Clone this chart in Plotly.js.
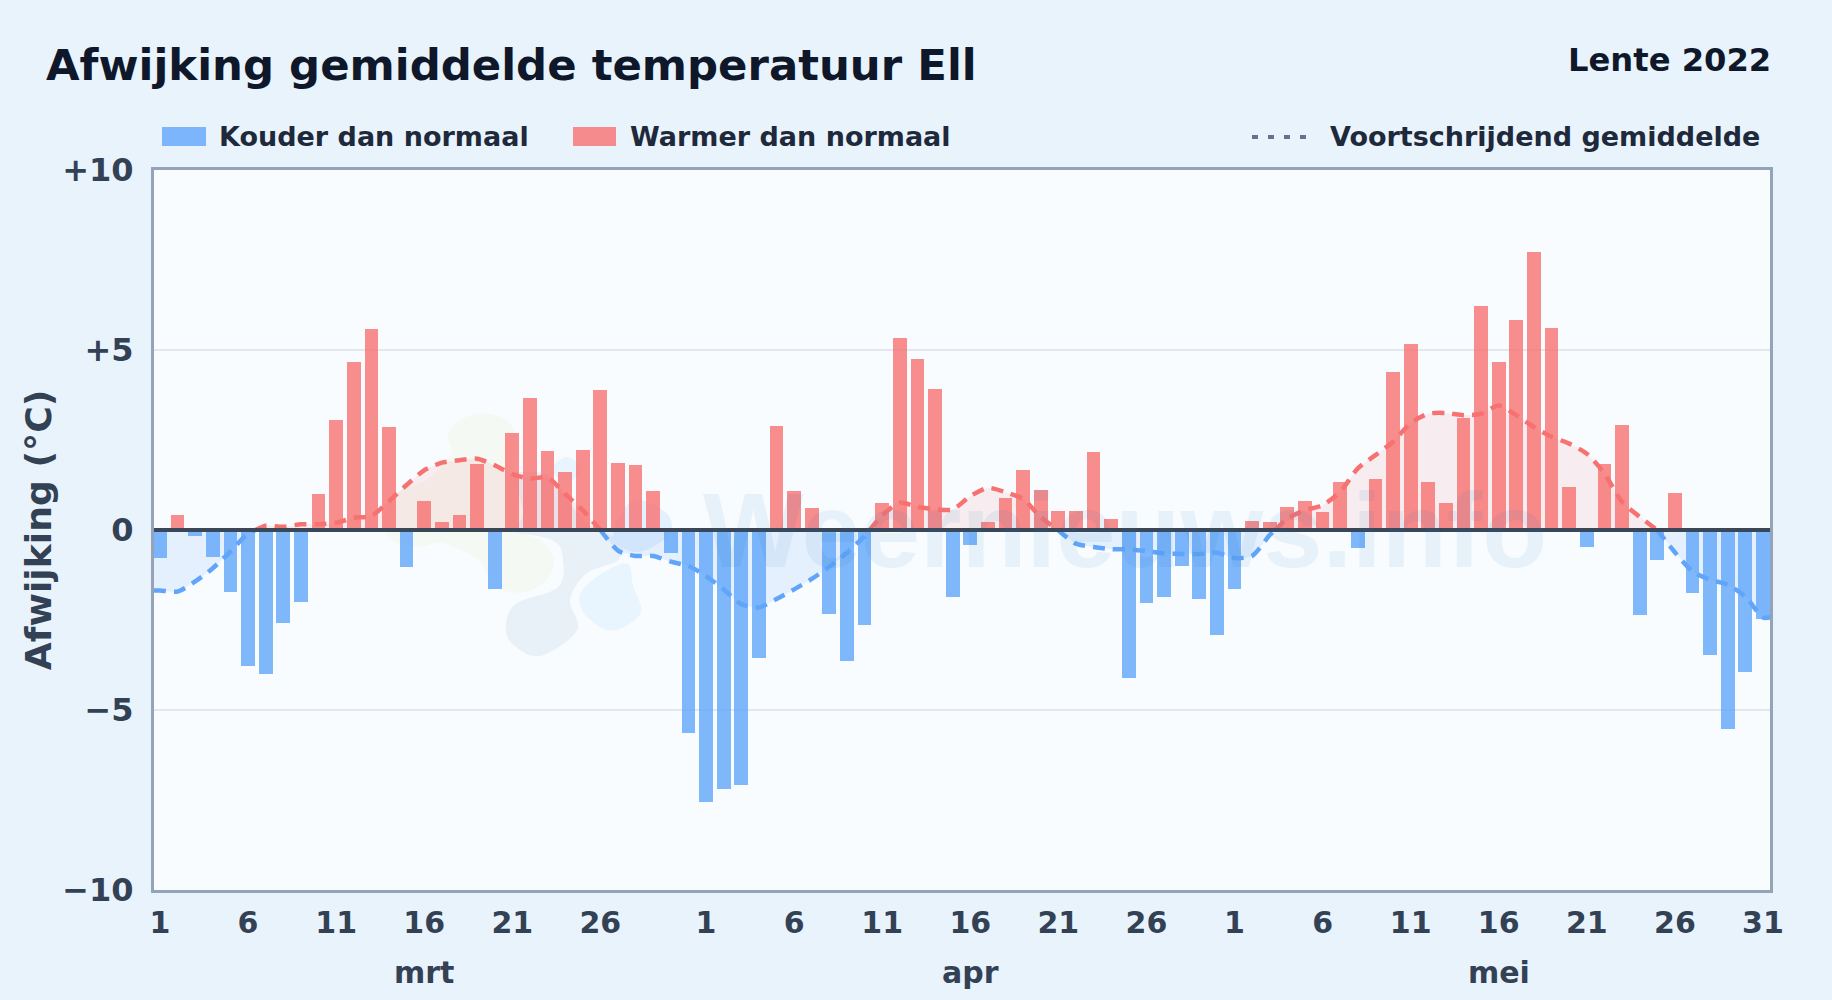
<!DOCTYPE html>
<html>
<head>
<meta charset="utf-8">
<script src="https://cdn.plot.ly/plotly-3.0.1.min.js"></script>
<style>html,body{margin:0;padding:0;background:#e9f3fc;}#chart{width:1832px;height:1000px;}</style>
</head>
<body>
<div id="chart"></div>
<script>
const title = "Afwijking gemiddelde temperatuur Ell";
const subtitle = "Lente 2022";
const yTitle = "Afwijking (°C)";
const seriesCold = "Kouder dan normaal";
const seriesWarm = "Warmer dan normaal";
const seriesAvg = "Voortschrijdend gemiddelde";
const watermark = "Weernieuws.info";

const dayLabels = [
 1,2,3,4,5,6,7,8,9,10,11,12,13,14,15,16,17,18,19,20,21,22,23,24,25,26,27,28,29,30,31,
 1,2,3,4,5,6,7,8,9,10,11,12,13,14,15,16,17,18,19,20,21,22,23,24,25,26,27,28,29,30,
 1,2,3,4,5,6,7,8,9,10,11,12,13,14,15,16,17,18,19,20,21,22,23,24,25,26,27,28,29,30,31];
const xTickDays = [0,5,10,15,20,25,31,36,41,46,51,56,61,66,71,76,81,86,91];
const monthNames = ["mrt","apr","mei"];
const monthLabelDay = [15,46,76];
const yTicks = [-10,-5,0,5,10];
const yTickText = ["−10","−5","0","+5","+10"];

const anomaly = [
 -0.77,0.42,-0.16,-0.74,-1.71,-3.79,-4.01,-2.57,-1.99,1.0,3.05,4.68,5.57,2.85,-1.02,0.8,0.22,0.42,1.83,-1.63,
 2.69,3.66,2.19,1.61,2.22,3.9,1.86,1.8,1.08,-0.63,-5.64,
 -7.56,-7.19,-7.08,-3.56,2.88,1.08,0.6,-2.34,-3.65,-2.65,0.75,5.32,4.76,3.93,-1.85,-0.43,0.22,0.89,1.66,1.11,
 0.53,0.53,2.18,0.31,-4.11,-2.04,-1.85,-0.99,-1.93,-2.93,
 -1.63,0.25,0.22,0.64,0.8,0.5,1.33,-0.49,1.41,4.4,5.18,1.33,0.75,3.1,6.23,4.68,5.82,7.73,5.62,1.19,-0.46,1.83,
 2.91,-2.37,-0.82,1.02,-1.74,-3.48,-5.53,-3.95,-2.48];

const movingAvg = [
 -1.68,-1.71,-1.43,-1.06,-0.6,-0.09,0.12,0.09,0.16,0.16,0.2,0.34,0.39,0.8,1.25,1.66,1.87,1.94,1.98,1.8,
 1.55,1.43,1.46,1.0,0.55,0.0,-0.57,-0.72,-0.72,-0.88,-1.0,
 -1.28,-1.65,-2.06,-2.15,-1.92,-1.65,-1.36,-1.02,-0.63,-0.17,0.41,0.76,0.64,0.58,0.57,0.94,1.17,1.05,0.86,0.36,
 -0.01,-0.38,-0.47,-0.53,-0.54,-0.59,-0.65,-0.67,-0.67,-0.63,
 -0.78,-0.72,-0.14,0.32,0.55,0.69,1.06,1.71,2.08,2.45,2.97,3.23,3.25,3.19,3.23,3.46,3.19,2.86,2.59,2.4,2.12,
 1.57,0.78,0.37,0.0,-0.62,-1.15,-1.38,-1.52,-1.85,-2.43];

const W = 1832, H = 1000;
const L = 154, R = 1770, T = 170, B = 890;
const xMin = -0.34, xMax = 91.4;
const px = x => (x - L) / (R - L);
const py = y => (B - y) / (B - T);
const idx = dayLabels.map((_, i) => i);
const F = "DejaVu Sans";

const C_COLD = "rgba(96,165,250,0.8)", C_WARM = "rgba(248,113,113,0.8)";
const LINE_COLD = "#60a5fa", LINE_WARM = "#f87171";

// Moving-average line is split at zero so each part takes the colour of its sign
const lineX = [xMin, ...idx, xMax];
const lineY = [movingAvg[0], ...movingAvg, movingAvg[movingAvg.length - 1]];
const segments = [];
let cur = {sign: lineY[0] >= 0 ? 1 : -1, x: [lineX[0]], y: [lineY[0]]};
for (let i = 1; i < lineX.length; i++) {
  const v = lineY[i], p = lineY[i-1];
  const s = v > 0 ? 1 : v < 0 ? -1 : cur.sign;
  if (s !== cur.sign) {
    const t = p / (p - v);
    const cx = lineX[i-1] + t * (lineX[i] - lineX[i-1]);
    cur.x.push(cx); cur.y.push(0);
    segments.push(cur);
    cur = {sign: s, x: [cx], y: [0]};
  }
  cur.x.push(lineX[i]); cur.y.push(v);
}
segments.push(cur);

const coldIdx = idx.filter(i => anomaly[i] < 0);
const warmIdx = idx.filter(i => anomaly[i] >= 0);
const traces = [
  {type:"bar", name:seriesCold, x:coldIdx, y:coldIdx.map(i=>anomaly[i]), width:0.78, marker:{color:C_COLD, line:{width:0}}, showlegend:false, hoverinfo:"y"},
  {type:"bar", name:seriesWarm, x:warmIdx, y:warmIdx.map(i=>anomaly[i]), width:0.78, marker:{color:C_WARM, line:{width:0}}, showlegend:false, hoverinfo:"y"},
  ...segments.map(s => ({
    type:"scatter", mode:"lines", name:seriesAvg, x:s.x, y:s.y, showlegend:false, hoverinfo:"y",
    line:{color:s.sign>0?LINE_WARM:LINE_COLD, width:4.5, dash:"12px,8px", shape:"spline", smoothing:0.7},
    fill:"tozeroy", fillcolor:s.sign>0?"rgba(248,113,113,0.11)":"rgba(96,165,250,0.13)"
  }))
];

// Faint logo behind the chart: outlines in reference pixels
function blob(pts, ox, oy, k) {
  const P = pts.map(p => [ox + p[0]/k, oy + p[1]/k]);
  const n = P.length; let d = `M${px(P[0][0])},${py(P[0][1])}`;
  for (let i=0;i<n;i++){
    const p0=P[(i-1+n)%n],p1=P[i],p2=P[(i+1)%n],p3=P[(i+2)%n];
    const c1=[p1[0]+(p2[0]-p0[0])/6,p1[1]+(p2[1]-p0[1])/6];
    const c2=[p2[0]-(p3[0]-p1[0])/6,p2[1]-(p3[1]-p1[1])/6];
    d+=`C${px(c1[0])},${py(c1[1])} ${px(c2[0])},${py(c2[1])} ${px(p2[0])},${py(p2[1])}`;
  }
  return d+"Z";
}
const logoGreen = [[205,100],[250,55],[310,40],[380,60],[405,110],[395,200],[430,340],[400,390],[480,420],[522,480],[495,545],[420,578],[340,555],[295,480],[190,430],[120,440],[40,425],[8,370],[50,280],[140,240],[212,165]];
const logoGrey = [[340,225],[500,222],[560,300],[640,385],[720,420],[715,480],[620,520],[570,600],[592,690],[480,768],[395,730],[378,670],[410,610],[530,565],[550,490],[515,420],[330,385],[250,330],[245,270]];
const logoBlueLow = [[598,590],[650,530],[740,490],[760,560],[782,640],[700,692],[625,655]];
const logoBlueUp = [[700,400],[760,300],[860,340],[870,400],[800,450],[740,450]];
const logoBlueTop = [[520,200],[560,170],[600,200],[580,240],[535,235]];
const blobShape = (pts, color) => ({type:"path", xref:"paper", yref:"paper", layer:"below", path:blob(pts,380,400,3), fillcolor:color, line:{width:0}});

const shapes = [
  blobShape(logoGrey,"#e8f0f8"),
  blobShape(logoGreen,"#f4f9f4"),
  blobShape(logoBlueLow,"#e9f5fe"),
  blobShape(logoBlueUp,"#e3f1fe"),
  blobShape(logoBlueTop,"#e9f5fe"),
  {type:"line", xref:"paper", yref:"y", x0:0, x1:1, y0:0, y1:0, layer:"above", line:{color:"#3a4759", width:4}},
  {type:"rect", xref:"paper", yref:"paper", x0:px(162), x1:px(206), y0:py(127), y1:py(146), fillcolor:C_COLD, line:{width:0}},
  {type:"rect", xref:"paper", yref:"paper", x0:px(573), x1:px(616), y0:py(127), y1:py(146), fillcolor:C_WARM, line:{width:0}},
  {type:"line", xref:"paper", yref:"paper", x0:px(1252), x1:px(1307), y0:py(137), y1:py(137), line:{color:"#64748b", width:4, dash:"6px,10px"}}
];

const txt = (text, x, y, size, color, anchor="left", extra={}) => ({
  text, xref:"paper", yref:"paper", x:px(x), y:py(y), xanchor:anchor, yanchor:"middle", showarrow:false,
  font:{family:F, size, color, weight:700}, borderpad:0, ...extra
});
const annotations = [
  {text:watermark, xref:"paper", yref:"paper", x:px(1125), y:py(530), xanchor:"center", yanchor:"middle", showarrow:false,
   font:{family:"Liberation Sans", size:106.5, weight:700, color:"rgba(30,110,180,0.08)"}},
  txt(subtitle, 1772, 60, 32.2, "#0f172a", "right"),
  txt(seriesCold, 218, 137, 27, "#1e293b"),
  txt(seriesWarm, 629, 137, 27, "#1e293b"),
  txt(seriesAvg, 1329, 137, 27, "#1e293b"),
  ...monthNames.map((m,i) => ({text:m, xref:"x", yref:"paper", x:monthLabelDay[i], y:py(972), xanchor:"center", yanchor:"middle",
     showarrow:false, font:{family:F, size:30, color:"#334155", weight:700}}))
];

const layout = {
  width:W, height:H, autosize:false,
  paper_bgcolor:"#e9f3fc", plot_bgcolor:"#f8fcff",
  margin:{l:L, r:W-R, t:T, b:H-B, pad:0},
  showlegend:false, barmode:"overlay", bargap:0,
  title:{text:title, x:46/W, xanchor:"left", xref:"container", y:1-65/H, yanchor:"middle", yref:"container",
         font:{family:F, size:43.4, color:"#0f172a", weight:700}},
  xaxis:{type:"linear", range:[xMin,xMax], tickmode:"array", tickvals:xTickDays, ticktext:xTickDays.map(i=>String(dayLabels[i])),
    tickangle:0, showgrid:false, zeroline:false, showline:true, mirror:true, linecolor:"#94a3b8", linewidth:3, ticks:"", ticklabelstandoff:4,
    tickfont:{family:F, size:30, color:"#334155", weight:700}},
  yaxis:{range:[-10,10], tickmode:"array", tickvals:yTicks, ticktext:yTickText, showgrid:true, gridcolor:"#e2e8ee", gridwidth:2,
    zeroline:false, showline:true, mirror:true, linecolor:"#94a3b8", linewidth:3, ticks:"", ticklabelstandoff:11,
    tickfont:{family:F, size:32, color:"#334155", weight:700},
    title:{text:yTitle, standoff:0, font:{family:F, size:36.2, color:"#334155", weight:700}}},
  shapes, annotations
};
Plotly.newPlot("chart", traces, layout, {displayModeBar:false, staticPlot:true});
</script>
</body>
</html>
